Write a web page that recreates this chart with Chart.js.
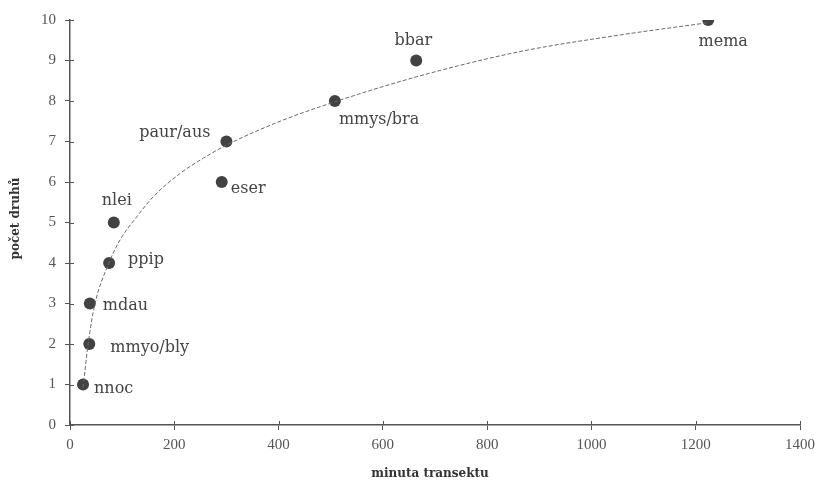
<!DOCTYPE html>
<html>
<head>
<meta charset="utf-8">
<script src="https://cdn.jsdelivr.net/npm/chart.js@4/dist/chart.umd.min.js"></script>
<style>
  html, body { margin: 0; padding: 0; background: #ffffff; }
  #wrap { width: 825px; height: 483px; }
</style>
</head>
<body>
<div id="wrap"><canvas id="chart" width="825" height="483"></canvas></div>
<script>
// Species accumulation along the transect
const species = ['nnoc', 'mmyo/bly', 'mdau', 'ppip', 'nlei', 'eser', 'paur/aus', 'mmys/bra', 'bbar', 'mema'];
const minutes = [25, 37, 38, 75, 84, 291, 300, 508, 664, 1224];
const speciesCount = [1, 2, 3, 4, 5, 6, 7, 8, 9, 10];

// Fitted trend curve, sampled along its course
const curveMinutes = [25, 35, 48, 73, 96, 128, 160, 211, 256, 300, 403, 508, 671, 863, 1055, 1222];
const curveCount = [0.92, 2.02, 3.0, 3.95, 4.57, 5.14, 5.64, 6.21, 6.59, 6.91, 7.5, 7.98, 8.62, 9.22, 9.63, 9.93];

const xTicks = [0, 200, 400, 600, 800, 1000, 1200, 1400];
const yTicks = [0, 1, 2, 3, 4, 5, 6, 7, 8, 9, 10];

const xTitle = 'minuta transektu';
const yTitle = 'počet druhů';

// label placement next to each point: [dx, dy, align]
const labelPlacement = [
  [11, 4, 'left'],
  [21, 4, 'left'],
  [13, 2, 'left'],
  [19, -3, 'left'],
  [3, -22, 'center'],
  [9, 7, 'left'],
  [-16, -9, 'right'],
  [4, 19, 'left'],
  [-3, -20, 'center'],
  [15, 22, 'center']
];

const axisColor = '#555555';
const textColor = '#444444';
const serif = "'Liberation Serif', 'Times New Roman', serif";
const labelFont = "16px 'DejaVu Serif', serif";

const pointLabels = {
  id: 'pointLabels',
  afterDatasetsDraw(chart) {
    const ctx = chart.ctx;
    const meta = chart.getDatasetMeta(1);
    ctx.save();
    ctx.font = labelFont;
    ctx.fillStyle = textColor;
    ctx.textBaseline = 'middle';
    meta.data.forEach((el, i) => {
      const p = labelPlacement[i];
      ctx.textAlign = p[2];
      ctx.fillText(species[i], el.x + p[0], el.y + p[1]);
    });
    ctx.restore();
  }
};

// short ticks on the inner side of both axes, plus the axis titles
const axisDecor = {
  id: 'axisDecor',
  afterDraw(chart) {
    const ctx = chart.ctx;
    const xs = chart.scales.x, ys = chart.scales.y;
    const area = chart.chartArea;
    ctx.save();
    ctx.strokeStyle = axisColor;
    ctx.lineWidth = 1;
    ctx.beginPath();
    xTicks.forEach(v => {
      const px = Math.round(xs.getPixelForValue(v)) + 0.5;
      ctx.moveTo(px, area.bottom);
      ctx.lineTo(px, area.bottom - 4);
    });
    yTicks.forEach(v => {
      const py = Math.round(ys.getPixelForValue(v)) + 0.5;
      ctx.moveTo(area.left, py);
      ctx.lineTo(area.left + 4, py);
    });
    ctx.stroke();

    ctx.fillStyle = '#333333';
    ctx.font = "bold 12px 'DejaVu Serif', serif";
    ctx.textAlign = 'center';
    ctx.textBaseline = 'middle';
    ctx.fillText(xTitle, (area.left + area.right) / 2 - 5, 474);
    ctx.translate(16, (area.top + area.bottom) / 2 - 4);
    ctx.rotate(-Math.PI / 2);
    ctx.fillText(yTitle, 0, 0);
    ctx.restore();
  }
};

new Chart(document.getElementById('chart'), {
  type: 'scatter',
  data: {
    datasets: [
      {
        data: curveMinutes.map((m, i) => ({ x: m, y: curveCount[i] })),
        showLine: true,
        borderColor: '#6a6a6a',
        borderWidth: 1,
        borderDash: [4, 2],
        cubicInterpolationMode: 'monotone',
        pointRadius: 0,
        fill: false
      },
      {
        data: minutes.map((m, i) => ({ x: m, y: speciesCount[i] })),
        showLine: false,
        pointRadius: 6,
        pointBackgroundColor: '#424242',
        pointBorderColor: '#424242',
        pointBorderWidth: 0
      }
    ]
  },
  options: {
    responsive: false,
    animation: false,
    layout: { padding: { top: 20, right: 25, left: 0, bottom: 0 } },
    plugins: { legend: { display: false }, tooltip: { enabled: false } },
    scales: {
      x: {
        type: 'linear',
        min: 0, max: 1400,
        afterFit(s) { s.height = 58; },
        afterBuildTicks(s) { s.ticks = xTicks.map(v => ({ value: v })); },
        grid: { drawOnChartArea: false, tickLength: 5, color: axisColor },
        border: { color: axisColor, width: 1.5 },
        ticks: { color: '#555555', font: { family: serif, size: 15 }, padding: 6, callback: v => String(v) }
      },
      y: {
        type: 'linear',
        min: 0, max: 10,
        afterFit(s) { s.width = 70; },
        afterBuildTicks(s) { s.ticks = yTicks.map(v => ({ value: v })); },
        grid: { drawOnChartArea: false, tickLength: 5, color: axisColor },
        border: { color: axisColor, width: 1.5 },
        ticks: { color: '#555555', font: { family: serif, size: 15 }, padding: 9, callback: v => String(v) }
      }
    }
  },
  plugins: [pointLabels, axisDecor]
});
</script>
</body>
</html>
